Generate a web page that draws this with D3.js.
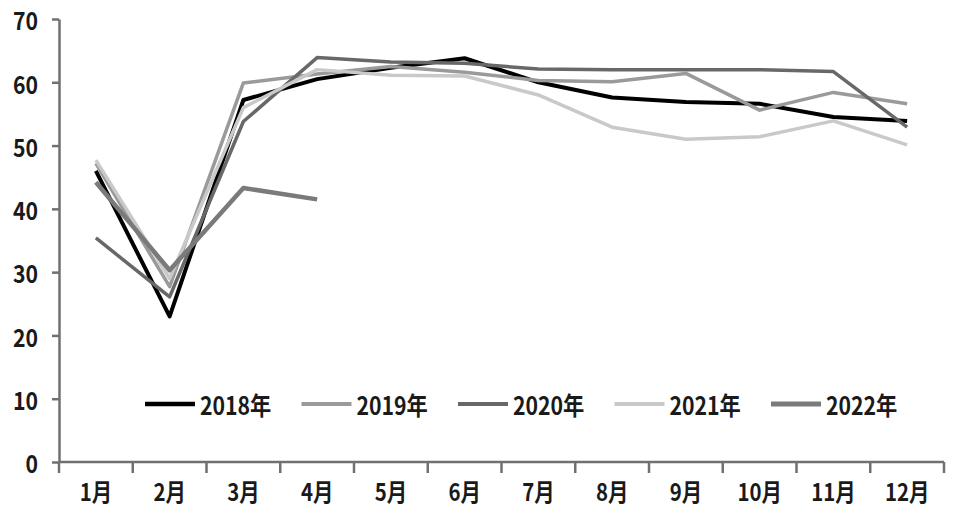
<!DOCTYPE html>
<html><head><meta charset="utf-8">
<script src="https://cdn.jsdelivr.net/npm/d3@7/dist/d3.min.js"></script>
<style>
html,body{margin:0;padding:0;background:#fff;}
svg text{font-family:"Noto Sans CJK SC","Noto Sans",sans-serif;font-weight:bold;fill:#1a1a1a;}
</style></head>
<body><svg id="c" width="956" height="524"></svg>
<script>
const months = ["1月","2月","3月","4月","5月","6月","7月","8月","9月","10月","11月","12月"];
const yTicks = [0,10,20,30,40,50,60,70];
const seriesNames = ["2018年","2019年","2020年","2021年","2022年"];
const s2018 = [46.0,23.0,57.2,60.5,62.3,63.8,60.0,57.6,56.9,56.6,54.5,53.9];
const s2019 = [47.2,27.7,59.9,61.3,62.5,61.6,60.3,60.1,61.4,55.6,58.4,56.6];
const s2020 = [35.4,26.1,53.8,63.9,63.2,63.0,62.1,62.0,62.0,62.0,61.7,52.9];
const s2021 = [47.7,29.0,56.0,62.0,61.1,61.0,58.0,52.9,51.0,51.4,53.9,50.1];
const s2022 = [44.2,30.3,43.3,41.5];
const seriesColors = ["#000000","#9a9a9a","#686868","#c9c9c9","#7a7a7a"];
const seriesWidths = [4,3.5,3.5,3.5,4.5];

const svg = d3.select("#c");
const x = d3.scaleBand().domain(months).range([59,944]);
const y = d3.scaleLinear().domain([0,70]).range([462,19]);
const axisColor = "#707070";
const sx = 0.85;

// Y axis
const gy = svg.append("g").attr("transform","translate(59,0)");
gy.call(d3.axisLeft(y).tickValues(yTicks).tickSize(7).tickSizeOuter(0).tickFormat(d3.format("d")));
gy.select(".domain").attr("stroke",axisColor).attr("stroke-width",2.5);
gy.selectAll(".tick line").attr("stroke",axisColor).attr("stroke-width",2.5);
gy.selectAll(".tick text").attr("font-size",25).attr("x",0).attr("dy",null)
  .attr("dominant-baseline","central")
  .attr("transform","translate(-21,0) scale("+sx+",1)");

// X axis
const gx = svg.append("g").attr("transform","translate(0,462)");
gx.append("line").attr("x1",59).attr("x2",944).attr("y1",0).attr("y2",0)
  .attr("stroke",axisColor).attr("stroke-width",2.5);
const bounds = months.map(m=>x(m)).concat([x.range()[1]]);
gx.selectAll("line.tk").data(bounds).join("line").attr("class","tk")
  .attr("x1",d=>d).attr("x2",d=>d).attr("y1",0).attr("y2",11)
  .attr("stroke",axisColor).attr("stroke-width",2.5);
gx.selectAll("text").data(months).join("text")
  .attr("transform",d=>"translate("+(x(d)+x.bandwidth()/2)+",39) scale("+sx+",1)")
  .attr("text-anchor","middle").attr("font-size",24).text(d=>d);

// Lines
const allSeries = [s2018,s2019,s2020,s2021,s2022];
const line = d3.line().x((d,i)=>x(months[i])+x.bandwidth()/2).y(d=>y(d));
allSeries.forEach((s,k)=>{
  svg.append("path").datum(s).attr("d",line).attr("fill","none")
    .attr("stroke",seriesColors[k]).attr("stroke-width",seriesWidths[k])
    .attr("stroke-linejoin","round").attr("stroke-linecap","butt");
});

// Legend
const lg = svg.append("g");
seriesNames.forEach((n,k)=>{
  const lx = 145 + k*156.5;
  lg.append("line").attr("x1",lx).attr("x2",lx+50).attr("y1",404).attr("y2",404)
    .attr("stroke",seriesColors[k]).attr("stroke-width",seriesWidths[k]+0.5);
  lg.append("text").attr("transform","translate("+(lx+55)+",404) scale("+sx+",1)")
    .attr("dominant-baseline","central").attr("font-size",25).text(n);
});
</script></body></html>
